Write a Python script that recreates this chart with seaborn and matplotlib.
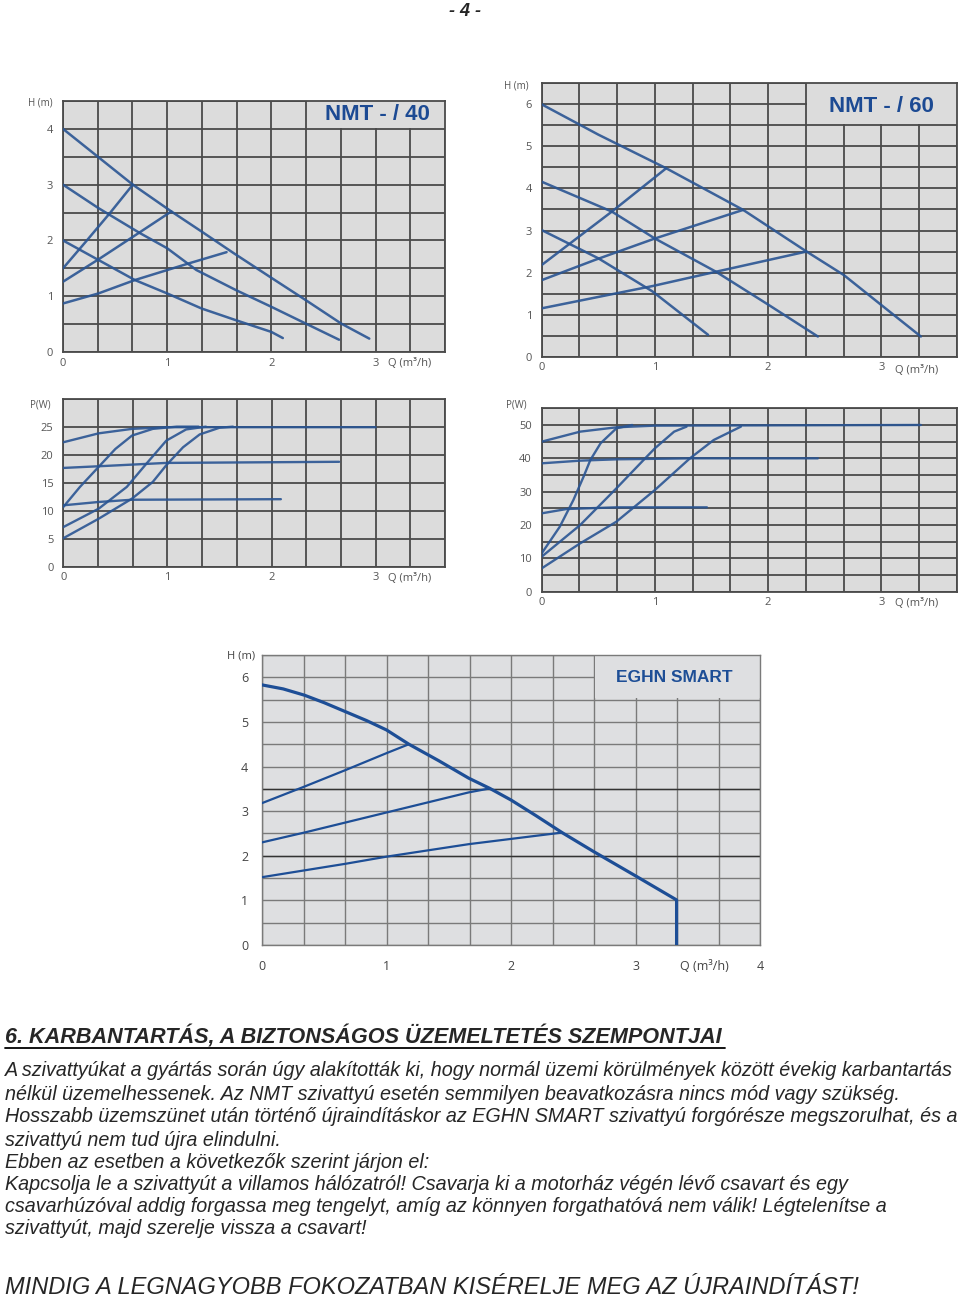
import matplotlib
matplotlib.use('Agg')
import matplotlib.pyplot as plt
from matplotlib import font_manager
from matplotlib.patches import Rectangle
from matplotlib.lines import Line2D
import numpy as np
import seaborn as sns

sns.set_theme(style='white')
plt.rcParams['font.family'] = ['Open Sans', 'DejaVu Sans']

# NMT - / 40, head curves (Q m3/h, H m)
q40_s3 = [0, 0.67, 1.04, 1.33, 1.64, 2.0, 2.33, 2.67, 2.94]
h40_s3 = [4.0, 3.0, 2.52, 2.16, 1.77, 1.33, 0.93, 0.51, 0.24]
q40_s2 = [0, 0.34, 0.74, 1.0, 1.28, 1.66, 2.0, 2.33, 2.65]
h40_s2 = [3.0, 2.58, 2.13, 1.86, 1.47, 1.11, 0.81, 0.51, 0.22]
q40_s1 = [0, 0.34, 0.69, 1.0, 1.33, 1.66, 2.0, 2.11]
h40_s1 = [2.0, 1.65, 1.29, 1.05, 0.78, 0.57, 0.36, 0.25]
q40_a = [0, 0.22, 0.45, 0.67]
h40_a = [1.5, 1.98, 2.49, 3.0]
q40_b = [0, 0.34, 0.74, 1.04]
h40_b = [1.26, 1.66, 2.15, 2.52]
q40_c = [0, 0.34, 0.69, 1.21, 1.57]
h40_c = [0.87, 1.05, 1.29, 1.59, 1.79]

# NMT - / 60, head curves
q60_s3 = [0, 0.5, 1.1, 1.78, 2.34, 2.67, 3.0, 3.35]
h60_s3 = [6.0, 5.28, 4.48, 3.49, 2.5, 1.94, 1.23, 0.48]
q60_s2 = [0, 0.62, 1.0, 1.54, 2.0, 2.44]
h60_s2 = [4.16, 3.45, 2.81, 2.02, 1.24, 0.48]
q60_s1 = [0, 0.5, 0.98, 1.47]
h60_s1 = [3.01, 2.34, 1.55, 0.52]
q60_a = [0, 0.62, 1.1]
h60_a = [2.18, 3.45, 4.48]
q60_b = [0, 0.47, 1.0, 1.78]
h60_b = [1.82, 2.3, 2.81, 3.49]
q60_c = [0, 0.98, 1.54, 2.34]
h60_c = [1.15, 1.68, 2.02, 2.5]

# NMT - / 40, power curves (P W)
pq40_top = [0, 0.34, 0.66, 0.99, 3.0]
p40_top = [22.3, 23.9, 24.7, 25.0, 25.0]
pq40_mid = [0, 0.34, 0.99, 2.65]
p40_mid = [17.7, 18.0, 18.6, 18.8]
pq40_low = [0, 0.34, 0.66, 2.09]
p40_low = [11.0, 11.6, 12.0, 12.1]
pq40_r1 = [0, 0.16, 0.34, 0.5, 0.66, 0.86, 1.09, 1.3]
p40_r1 = [10.7, 14.3, 17.9, 21.1, 23.5, 24.7, 25.1, 25.1]
pq40_r2 = [0, 0.34, 0.61, 0.8, 0.99, 1.18, 1.37]
p40_r2 = [7.1, 10.4, 14.3, 18.5, 22.6, 24.6, 25.1]
pq40_r3 = [0, 0.34, 0.66, 0.86, 0.99, 1.15, 1.31, 1.5, 1.63]
p40_r3 = [5.1, 8.6, 12.2, 15.2, 18.2, 21.4, 23.7, 24.9, 25.1]

# NMT - / 60, power curves
pq60_top = [0, 0.34, 0.66, 1.0, 3.35]
p60_top = [45, 48, 49.3, 49.8, 50]
pq60_mid = [0, 0.34, 0.66, 1.34, 2.44]
p60_mid = [38.5, 39.3, 39.7, 40, 40]
pq60_low = [0, 0.22, 0.66, 1.46]
p60_low = [23.5, 24.8, 25.3, 25.3]
pq60_r1 = [0, 0.16, 0.28, 0.37, 0.43, 0.52, 0.66, 0.8]
p60_r1 = [11.5, 19.5, 27.5, 34.5, 39.5, 44.5, 49, 50]
pq60_r2 = [0, 0.34, 0.5, 0.66, 0.9, 1.0, 1.17, 1.28]
p60_r2 = [10.5, 20, 25.5, 31, 39.5, 43, 48, 49.5]
pq60_r3 = [0, 0.34, 0.66, 1.0, 1.31, 1.52, 1.76]
p60_r3 = [7, 14.5, 21, 30.5, 40, 45.5, 49.5]

# EGHN SMART
qe_max = [0, 0.17, 0.34, 0.5, 0.67, 0.84, 1.0, 1.18, 1.42, 1.66, 1.83, 2.0,
          2.2, 2.41, 2.66, 3.0, 3.33, 3.33]
he_max = [5.83, 5.74, 5.6, 5.43, 5.23, 5.03, 4.82, 4.5, 4.13, 3.74, 3.51, 3.25,
          2.9, 2.52, 2.1, 1.55, 1.01, 0]
qe_a = [0, 0.34, 0.67, 1.0, 1.18]
he_a = [3.18, 3.55, 3.92, 4.3, 4.5]
qe_b = [0, 0.34, 1.0, 1.66, 1.83]
he_b = [2.30, 2.52, 2.97, 3.42, 3.51]
qe_c = [0, 0.67, 1.0, 1.66, 2.41]
he_c = [1.52, 1.82, 1.98, 2.26, 2.52]

body_lines = [
    "A szivattyúkat a gyártás során úgy alakították ki, hogy normál üzemi körülmények között évekig karbantartás",
    "nélkül üzemelhessenek. Az NMT szivattyú esetén semmilyen beavatkozásra nincs mód vagy szükség.",
    "Hosszabb üzemszünet után történő újraindításkor az EGHN SMART szivattyú forgórésze megszorulhat, és a",
    "szivattyú nem tud újra elindulni.",
    "Ebben az esetben a következők szerint járjon el:",
    "Kapcsolja le a szivattyút a villamos hálózatról! Csavarja ki a motorház végén lévő csavart és egy",
    "csavarhúzóval addig forgassa meg tengelyt, amíg az könnyen forgathatóvá nem válik! Légtelenítse a",
    "szivattyút, majd szerelje vissza a csavart!",
]
heading = "6. KARBANTARTÁS, A BIZTONSÁGOS ÜZEMELTETÉS SZEMPONTJAI"
closing = "MINDIG A LEGNAGYOBB FOKOZATBAN KISÉRELJE MEG AZ ÚJRAINDÍTÁST!"

W, H = 960, 1299
fig = plt.figure(figsize=(W / 100, H / 100), dpi=100)
fig.patch.set_facecolor('white')

NMT_BLUE = '#2a5593'
EG_BLUE = '#1d4e96'


def add_ax(left, top, right, bottom):
    return fig.add_axes([left / W, 1 - bottom / H, (right - left) / W, (bottom - top) / H])


def style_chart(ax, xmax, ymax, xstep, ystep, xticks, yticks, box, px_size,
                bg='#dcdcdc', gc='#4a4a4a', glw=1.3, tcol='#555555', tsize=8,
                xpad=4, ypad=7):
    ax.set_facecolor(bg)
    ax.set_xlim(0, xmax)
    ax.set_ylim(0, ymax)
    ax.set_axisbelow(True)
    ax.set_xticks(xticks)
    ax.set_yticks(yticks)
    ax.set_xticks(np.arange(0, xmax + 1e-6, xstep), minor=True)
    ax.set_yticks(np.arange(0, ymax + 1e-6, ystep), minor=True)
    ax.grid(which='both', color=gc, linewidth=glw)
    ax.tick_params(axis='both', which='both', length=0, colors=tcol, labelsize=tsize)
    ax.tick_params(axis='x', pad=xpad)
    ax.tick_params(axis='y', pad=ypad)
    for s in ax.spines.values():
        s.set_color(gc)
        s.set_linewidth(glw)
    # blank title panel in the upper right corner
    x0, x1, y0, y1 = box
    ex = 1.2 / px_size[0] * xmax
    ey = 1.2 / px_size[1] * ymax
    ax.add_patch(Rectangle((x0 + ex, y0 + ey), x1 - x0, y1 - y0 - ey,
                           facecolor=bg, edgecolor='none', zorder=1))


def curves(ax, pairs, color, lw, alpha=1.0):
    for q, v in pairs:
        sns.lineplot(x=q, y=v, ax=ax, sort=False, estimator=None,
                     color=color, linewidth=lw, alpha=alpha, zorder=3)


def px(x, y):
    return x / W, 1 - y / H


# ---- NMT - / 40 head ----
ax1 = add_ax(63, 101, 445, 352)
style_chart(ax1, 11 / 3, 4.5, 1 / 3, 0.5, [0, 1, 2, 3], [0, 1, 2, 3, 4],
            (7 / 3, 11 / 3, 4.0, 4.5), (382, 251))
curves(ax1, [(q40_s3, h40_s3), (q40_s2, h40_s2), (q40_s1, h40_s1),
             (q40_a, h40_a), (q40_b, h40_b), (q40_c, h40_c)], NMT_BLUE, 1.8, 0.9)
ax1.text(3.02, 4.25, 'NMT - / 40', color='#1c4a93', fontsize=16, fontweight='bold',
         family='Liberation Sans', ha='center', va='center', zorder=4)
fig.text(*px(40, 103), 'H (m)', fontsize=7, color='#555555', ha='center', va='center')
ax1.annotate('Q (m³/h)', xy=(3.12, 0), xycoords=('data', 'axes fraction'),
             xytext=(0, -12), textcoords='offset pixels', fontsize=8,
             color='#555555', va='center', ha='left')

# ---- NMT - / 60 head ----
ax2 = add_ax(541.7, 83.3, 956.7, 356.7)
style_chart(ax2, 11 / 3, 6.5, 1 / 3, 0.5, [0, 1, 2, 3], [0, 1, 2, 3, 4, 5, 6],
            (7 / 3, 11 / 3, 5.5, 6.5), (415, 273))
curves(ax2, [(q60_s3, h60_s3), (q60_s2, h60_s2), (q60_s1, h60_s1),
             (q60_a, h60_a), (q60_b, h60_b), (q60_c, h60_c)], NMT_BLUE, 1.8, 0.9)
ax2.text(3.0, 5.96, 'NMT - / 60', color='#1c4a93', fontsize=16, fontweight='bold',
         family='Liberation Sans', ha='center', va='center', zorder=4)
fig.text(*px(516, 86), 'H (m)', fontsize=7, color='#555555', ha='center', va='center')
ax2.annotate('Q (m³/h)', xy=(3.12, 0), xycoords=('data', 'axes fraction'),
             xytext=(0, -14), textcoords='offset pixels', fontsize=8,
             color='#555555', va='center', ha='left')

# ---- NMT - / 40 power ----
ax3 = add_ax(63.3, 399.3, 445, 566.7)
style_chart(ax3, 11 / 3, 30, 1 / 3, 5, [0, 1, 2, 3], [0, 5, 10, 15, 20, 25],
            (0, 0, 0, 0), (382, 167))
curves(ax3, [(pq40_top, p40_top), (pq40_mid, p40_mid), (pq40_low, p40_low),
             (pq40_r1, p40_r1), (pq40_r2, p40_r2), (pq40_r3, p40_r3)], NMT_BLUE, 1.7, 0.9)
fig.text(*px(40, 405), 'P(W)', fontsize=7, color='#555555', ha='center', va='center')
ax3.annotate('Q (m³/h)', xy=(3.12, 0), xycoords=('data', 'axes fraction'),
             xytext=(0, -12), textcoords='offset pixels', fontsize=8,
             color='#555555', va='center', ha='left')

# ---- NMT - / 60 power ----
ax4 = add_ax(541.7, 408.3, 956.7, 591.7)
style_chart(ax4, 11 / 3, 55, 1 / 3, 5, [0, 1, 2, 3], [0, 10, 20, 30, 40, 50],
            (0, 0, 0, 0), (415, 183))
curves(ax4, [(pq60_top, p60_top), (pq60_mid, p60_mid), (pq60_low, p60_low),
             (pq60_r1, p60_r1), (pq60_r2, p60_r2), (pq60_r3, p60_r3)], NMT_BLUE, 1.7, 0.9)
fig.text(*px(516, 405), 'P(W)', fontsize=7, color='#555555', ha='center', va='center')
ax4.annotate('Q (m³/h)', xy=(3.12, 0), xycoords=('data', 'axes fraction'),
             xytext=(0, -12), textcoords='offset pixels', fontsize=8,
             color='#555555', va='center', ha='left')

# ---- EGHN SMART ----
ax5 = add_ax(262, 655, 760, 945)
style_chart(ax5, 4.0, 6.5, 1 / 3, 0.5, [0, 1, 2, 3, 4], [0, 1, 2, 3, 4, 5, 6],
            (8 / 3, 4.0, 5.5, 6.5), (498, 290), bg='#dedfe1', gc='#7a7a7a',
            glw=1.0, tcol='#444444', tsize=9, xpad=11, ypad=10)
ax5.axhline(2, color='#333333', lw=1.0, zorder=0.6)
ax5.axhline(3.5, color='#333333', lw=1.0, zorder=0.6)
curves(ax5, [(qe_a, he_a), (qe_b, he_b), (qe_c, he_c)], EG_BLUE, 1.6)
curves(ax5, [(qe_max, he_max)], EG_BLUE, 2.3)
ax5.text(3.31, 6.0, 'EGHN SMART', color=EG_BLUE, fontsize=12.5, fontweight='bold',
         family='Liberation Sans', ha='center', va='center', zorder=4)
fig.text(*px(241, 656), 'H (m)', fontsize=8, color='#444444', ha='center', va='center')
ax5.annotate('Q (m³/h)', xy=(3.55, 0), xycoords=('data', 'axes fraction'),
             xytext=(0, -21), textcoords='offset pixels', fontsize=9,
             color='#444444', va='center', ha='center')

# ---- page text ----
names = {f.name for f in font_manager.fontManager.ttflist}
tf = 'Liberation Sans Narrow' if 'Liberation Sans Narrow' in names else 'Liberation Sans'
r = fig.canvas.get_renderer()


def fit(t, target):
    w = t.get_window_extent(r).width
    t.set_fontsize(t.get_fontsize() * target / w)


fig.text(*px(465, 11), '- 4 -', family=tf, fontsize=13, fontweight='bold',
         style='italic', ha='center', va='center')

ht = fig.text(*px(5, 1037), heading, family=tf, fontsize=14, fontweight='bold',
              style='italic', ha='left', va='center')
fit(ht, 720)
fig.add_artist(Line2D([5 / W, 725 / W], [1 - 1048 / H, 1 - 1048 / H],
                      color='black', lw=1.3))

ys = [1071, 1094, 1117, 1140, 1162, 1184, 1207, 1229]
texts = []
for s, y in zip(body_lines, ys):
    texts.append(fig.text(*px(5, y), s, family=tf, fontsize=14, style='italic',
                          ha='left', va='center'))
fit(texts[0], 948)
for t in texts[1:]:
    t.set_fontsize(texts[0].get_fontsize())

ct = fig.text(*px(5, 1288), closing, family=tf, fontsize=16, style='italic',
              ha='left', va='center')
fit(ct, 855)

fig.savefig('out.png', dpi=100, facecolor='white')
